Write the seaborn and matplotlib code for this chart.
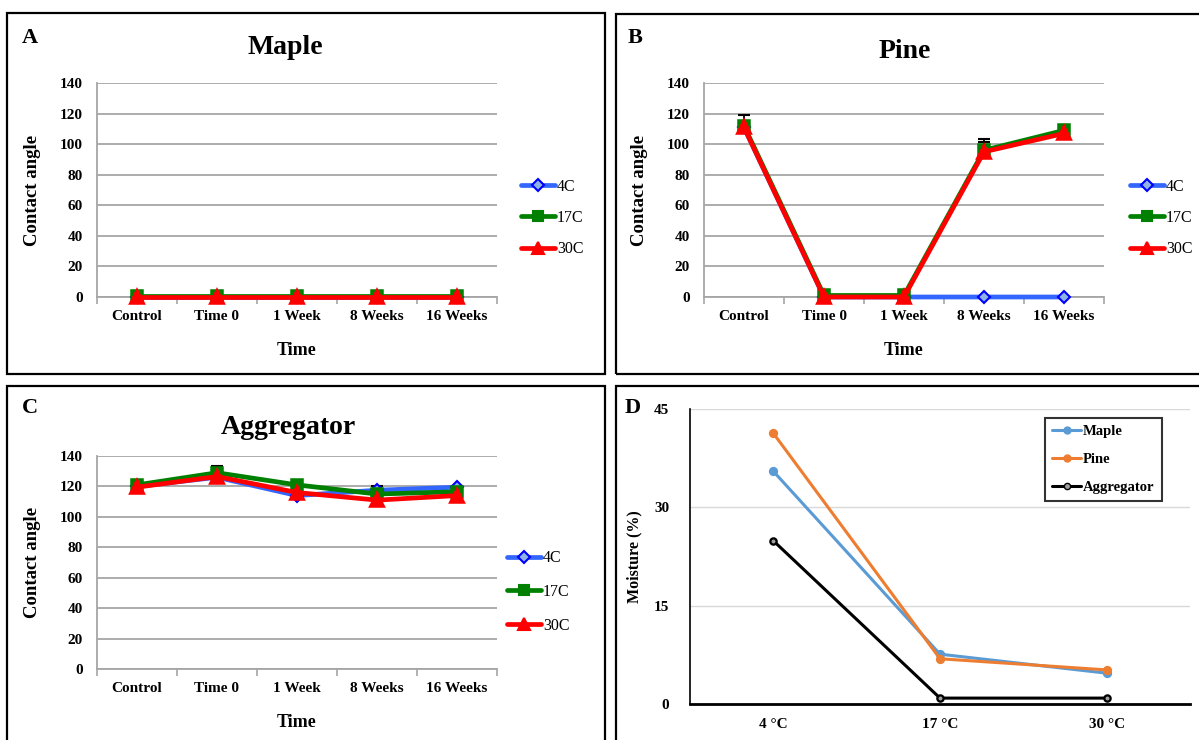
import numpy as np
import pandas as pd
import matplotlib
matplotlib.use("Agg")
import matplotlib.pyplot as plt
from matplotlib.patches import Rectangle
from matplotlib.lines import Line2D
import seaborn as sns

# ---- data -------------------------------------------------------------
times = ["Control", "Time 0", "1 Week", "8 Weeks", "16 Weeks"]
temps = ["4C", "17C", "30C"]

maple_4c = [0, 0, 0, 0, 0]
maple_17c = [0.5, 0.5, 0.5, 0.5, 0.5]
maple_30c = [0, 0, 0, 0, 0]

pine_4c = [111, 0, 0, 0, 0]
pine_17c = [112, 1, 1, 96, 109]
pine_30c = [111, 0, 0, 95, 107]
pine_err_17c = [7, 0, 0, 7.5, 0]
pine_err_30c = [0, 0, 0, 6.5, 0]

agg_4c = [120, 126, 114, 117.5, 119.5]
agg_17c = [121, 129, 121, 115, 116.5]
agg_30c = [119.5, 126.5, 116, 111, 114]
agg_err_4c = [0, 0, 0, 3, 0]
agg_err_17c = [0, 4.5, 0, 0, 0]

storage_temps = ["4 °C", "17 °C", "30 °C"]
woods = ["Maple", "Pine", "Aggregator"]
moist_maple = [35.5, 7.6, 4.7]
moist_pine = [41.3, 6.9, 5.2]
moist_agg = [24.9, 0.9, 0.9]

# ---- style ------------------------------------------------------------
sns.set_theme(style="white")
plt.rcParams["font.family"] = ["Liberation Serif", "DejaVu Serif"]
plt.rcParams["text.color"] = "black"
plt.rcParams["axes.labelcolor"] = "black"
plt.rcParams["xtick.color"] = "black"
plt.rcParams["ytick.color"] = "black"
plt.rcParams["xtick.labelcolor"] = "black"
plt.rcParams["ytick.labelcolor"] = "black"

W, H = 1199, 740
fig = plt.figure(figsize=(W / 100, H / 100), dpi=100)

temp_colors = {"4C": "#3366FF", "17C": "#008000", "30C": "#FF0000"}
temp_markers = ["D", "s", "^"]
temp_msize = {"4C": 6.5, "17C": 7, "30C": 8}
grid_gray = "#A6A6A6"


def px_axes(left, top, right, bottom):
    return fig.add_axes([left / W, 1 - bottom / H, (right - left) / W, (bottom - top) / H])


def frame(x0, y0, x1, y1):
    fig.patches.append(Rectangle((x0 / W, 1 - y1 / H), (x1 - x0) / W, (y1 - y0) / H,
                                 transform=fig.transFigure, fill=False,
                                 edgecolor="black", linewidth=1.6, zorder=0))


def angle_panel(ax, series, errors, title, title_xy, letter, letter_xy, legend_xy, spacing):
    df = pd.DataFrame({
        "Time": times * len(temps),
        "Contact angle": np.concatenate(series),
        "Temp": np.repeat(temps, len(times)),
    })
    sns.pointplot(data=df, x="Time", y="Contact angle", hue="Temp",
                  order=times, hue_order=temps, palette=temp_colors,
                  markers=temp_markers, linestyles="-", errorbar=None,
                  dodge=False, legend=False, ax=ax,
                  linewidth=3.4, markersize=7)
    for k, (line, t) in enumerate(zip(ax.lines, temps)):
        line.set_markersize(temp_msize[t])
        line.set_zorder(3 + k)
        line.set_clip_on(False)
    ax.lines[0].set_markerfacecolor("#8DB4E2")
    ax.lines[0].set_markeredgecolor("#0000FF")
    ax.lines[0].set_markeredgewidth(1.5)

    for vals, errs in errors:
        idx = [i for i, e in enumerate(errs) if e > 0]
        ax.errorbar(idx, [vals[i] for i in idx],
                    yerr=[[0] * len(idx), [errs[i] for i in idx]],
                    fmt="none", ecolor="black", elinewidth=1.3, capsize=4,
                    capthick=1.5, zorder=2.6)

    ax.set_xlim(-0.5, len(times) - 0.5)
    ax.set_ylim(0, 140)
    ax.set_yticks(np.arange(0, 141, 20))
    ax.set_xticks(np.arange(-0.5, len(times)), minor=True)
    ax.yaxis.grid(True, color=grid_gray, linewidth=1.3)
    ax.xaxis.grid(False)
    ax.set_axisbelow(True)
    for s in ["top", "right"]:
        ax.spines[s].set_visible(False)
    for s in ["left", "bottom"]:
        ax.spines[s].set_color(grid_gray)
        ax.spines[s].set_linewidth(1.3)
    ax.tick_params(axis="y", which="major", length=5, width=1.2, color=grid_gray,
                   pad=5, labelsize=11, labelcolor="black")
    ax.tick_params(axis="x", which="major", length=0, pad=9, labelsize=11,
                   labelcolor="black")
    ax.tick_params(axis="x", which="minor", length=5, width=1.2, color=grid_gray,
                   bottom=True)
    for lab in ax.get_xticklabels() + ax.get_yticklabels():
        lab.set_fontweight("bold")
    ax.set_xlabel("Time", fontsize=13, fontweight="bold", labelpad=14)
    ax.set_ylabel("Contact angle", fontsize=13.5, fontweight="bold", labelpad=14)

    fig.text(title_xy[0] / W, 1 - title_xy[1] / H, title, fontsize=20,
             fontweight="bold", ha="center", va="center")
    fig.text(letter_xy[0] / W, 1 - letter_xy[1] / H, letter, fontsize=16,
             fontweight="bold", ha="center", va="center")

    handles = [Line2D([], [], color=temp_colors[t], marker=m, linewidth=3.4,
                      markersize=temp_msize[t],
                      markerfacecolor="#8DB4E2" if t == "4C" else temp_colors[t],
                      markeredgecolor="#0000FF" if t == "4C" else temp_colors[t],
                      markeredgewidth=1.5)
               for t, m in zip(temps, temp_markers)]
    fig.legend(handles, temps, loc="center left",
               bbox_to_anchor=(legend_xy[0] / W, 1 - legend_xy[1] / H),
               bbox_transform=fig.transFigure, frameon=False, fontsize=11.5,
               handlelength=2.1, handletextpad=0.15, labelspacing=spacing,
               borderpad=0, borderaxespad=0)


# ---- panel frames -----------------------------------------------------
frame(7, 13, 605, 374)
frame(616, 14, 1210, 374)
frame(7, 386, 605, 750)
frame(616, 386, 1210, 750)

# ---- A: Maple ---------------------------------------------------------
axA = px_axes(97, 83, 497, 297)
angle_panel(axA, [maple_4c, maple_17c, maple_30c], [],
            "Maple", (285, 47), "A", (30, 38), (521, 218), 0.95)

# ---- B: Pine ----------------------------------------------------------
axB = px_axes(704, 83, 1104, 297)
angle_panel(axB, [pine_4c, pine_17c, pine_30c],
            [(pine_17c, pine_err_17c), (pine_30c, pine_err_30c)],
            "Pine", (905, 52), "B", (635, 38), (1130, 218), 0.95)

# ---- C: Aggregator ----------------------------------------------------
axC = px_axes(97, 456, 497, 669)
angle_panel(axC, [agg_4c, agg_17c, agg_30c],
            [(agg_4c, agg_err_4c), (agg_17c, agg_err_17c)],
            "Aggregator", (288, 428), "C", (30, 408), (507, 592), 1.1)

# ---- D: moisture ------------------------------------------------------
axD = px_axes(690, 409, 1190, 704)
wood_colors = {"Maple": "#5B9BD5", "Pine": "#ED7D31", "Aggregator": "#000000"}
dfD = pd.DataFrame({
    "Temperature": storage_temps * len(woods),
    "Moisture": np.concatenate([moist_maple, moist_pine, moist_agg]),
    "Wood": np.repeat(woods, len(storage_temps)),
})
sns.pointplot(data=dfD, x="Temperature", y="Moisture", hue="Wood",
              order=storage_temps, hue_order=woods, palette=wood_colors,
              markers="o", linestyles="-", errorbar=None, dodge=False,
              legend=False, ax=axD, linewidth=2.2, markersize=5)
axD.lines[2].set_markerfacecolor("#A0A0A0")
axD.lines[2].set_markeredgecolor("#000000")
axD.lines[2].set_markersize(4.5)

axD.set_xlim(-0.5, len(storage_temps) - 0.5)
axD.set_ylim(0, 45)
axD.set_yticks([0, 15, 30, 45])
axD.yaxis.grid(True, color="#D9D9D9", linewidth=1.0)
axD.xaxis.grid(False)
axD.set_axisbelow(True)
for s in ["top", "right"]:
    axD.spines[s].set_visible(False)
axD.spines["left"].set_color("black")
axD.spines["left"].set_linewidth(1.2)
axD.spines["bottom"].set_color("black")
axD.spines["bottom"].set_linewidth(2.0)
axD.tick_params(axis="both", length=0, labelsize=11, labelcolor="black")
axD.tick_params(axis="y", pad=15)
axD.tick_params(axis="x", pad=10)
for lab in axD.get_xticklabels() + axD.get_yticklabels():
    lab.set_fontweight("bold")
axD.set_xlabel("")
axD.set_ylabel("Moisture (%)", fontsize=11.5, fontweight="bold", labelpad=8)
fig.text(633 / W, 1 - 408 / H, "D", fontsize=16, fontweight="bold",
         ha="center", va="center")

handlesD = [Line2D([], [], color=wood_colors[w], marker="o", linewidth=2.2,
                   markersize=4.5 if w == "Aggregator" else 5,
                   markerfacecolor="#A0A0A0" if w == "Aggregator" else wood_colors[w],
                   markeredgecolor=wood_colors[w])
            for w in woods]
legD = axD.legend(handlesD, woods, loc="upper left",
                  bbox_to_anchor=(1045 / W, 1 - 418 / H),
                  bbox_transform=fig.transFigure, frameon=True, fancybox=False,
                  prop={"weight": "bold", "size": 10.5},
                  handlelength=2.0, handletextpad=0.1, labelspacing=1.0,
                  borderpad=0.5, borderaxespad=0)
legD.get_frame().set_edgecolor("black")
legD.get_frame().set_linewidth(1.5)

fig.savefig("out.png", dpi=100)
